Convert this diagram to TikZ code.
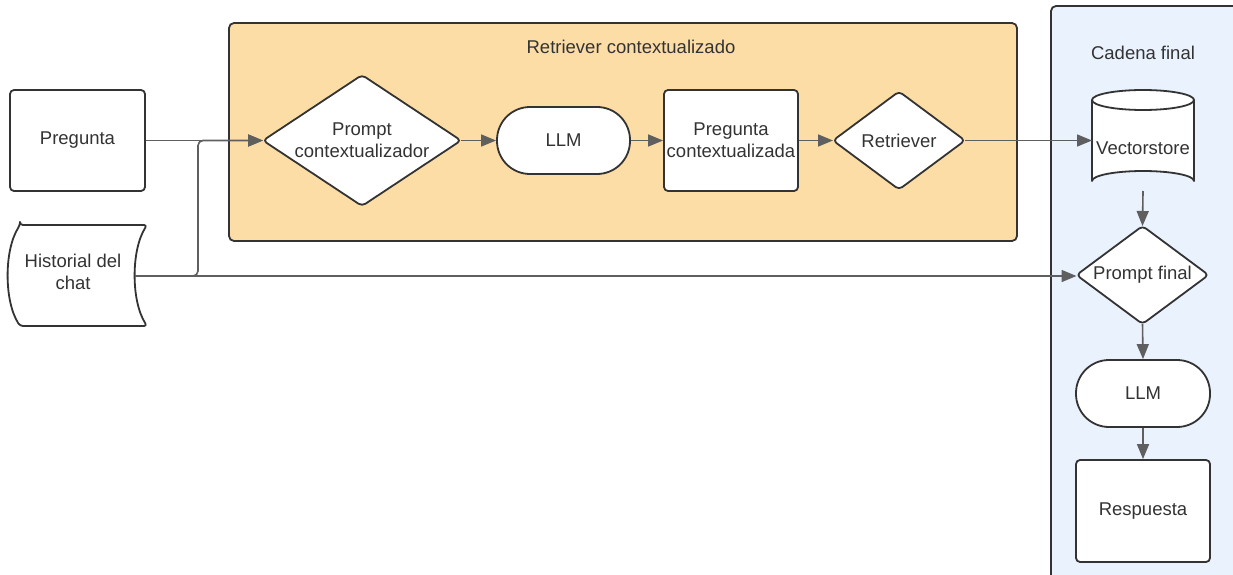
\documentclass[tikz,border=0pt]{standalone}
\usepackage{fontspec}
\setmainfont{Liberation Sans}
\usetikzlibrary{arrows.meta}
\definecolor{ink}{RGB}{51,51,51}
\definecolor{wire}{RGB}{95,95,95}
\definecolor{orangebg}{RGB}{253,221,166}
\definecolor{bluebg}{RGB}{234,242,254}
\tikzset{
  every node/.style={font=\fontsize{18.5}{22}\selectfont, text=ink, align=center},
  shapeline/.style={draw=ink, line width=1.8pt, fill=white, line join=round},
  boxnode/.style={shapeline, rectangle, rounded corners=4pt, inner sep=0pt},
  pill/.style={shapeline, rectangle, rounded corners=33pt, minimum width=133pt, minimum height=67pt, inner sep=0pt},
  panel/.style={draw=ink, line width=1.8pt, rounded corners=5pt},
  flow/.style={draw=wire, line width=1.6pt, -{Triangle[length=15pt, width=12pt]}},
}
% diamond: name, centre x, centre y, half width, half height, label
\newcommand{\flowdiamond}[6]{%
  \coordinate (#1-w) at ({#2-#4},#3);
  \coordinate (#1-e) at ({#2+#4},#3);
  \coordinate (#1-n) at (#2,{#3-#5});
  \coordinate (#1-s) at (#2,{#3+#5});
  \draw[shapeline, rounded corners=4pt] (#1-w) -- (#1-n) -- (#1-e) -- (#1-s) -- cycle;
  \node (#1) at (#2,#3) {#6};
}
\begin{document}
\begin{tikzpicture}[x=1pt, y=-1pt]
\useasboundingbox (0,0) rectangle (1233,575);
\clip (0,0) rectangle (1233,575);

% group panels
\draw[panel, fill=orangebg] (229,23) rectangle (1017,241);
\node (gret) at (631,47) {Retriever contextualizado};
\draw[panel, fill=bluebg] (1051,6) rectangle (1250,600);
\node (gfin) at (1143,53) {Cadena final};

% inputs
\node[boxnode, minimum width=135pt, minimum height=101pt] (preg) at (77.5,140.5) {Pregunta};
\draw[shapeline, rounded corners=3pt] (20,225) -- (147,225)
  .. controls (131,250) and (131,301) .. (147,326) -- (20,326)
  .. controls (4,301) and (4,250) .. (20,225) -- cycle;
\node (hist) at (73,272) {Historial del\\chat};
\coordinate (hist-e) at (135,276);

% contextualising retriever
\flowdiamond{pc}{362}{140.5}{99}{65.5}{Prompt\\contextualizador}
\node[pill] (llm1) at (563.5,140.5) {LLM};
\node[boxnode, minimum width=134pt, minimum height=101pt] (pcx) at (731,140.5) {Pregunta\\contextualizada};
\flowdiamond{ret}{899}{140.5}{66}{49}{Retriever}

% final chain
\draw[shapeline] (1092,100) -- (1092,181) arc[start angle=180, end angle=360, x radius=51, y radius=10]
  -- (1194,100);
\draw[shapeline] (1143,100) ellipse[x radius=51, y radius=10];
\node (vs) at (1143,148) {Vectorstore};
\coordinate (vs-w) at (1092,140.5);
\coordinate (vs-s) at (1143,191);
\flowdiamond{pf}{1142.5}{275}{66}{49}{Prompt final}
\node[pill, minimum width=134pt] (llm2) at (1143,393.5) {LLM};
\node[boxnode, minimum width=134pt, minimum height=102pt] (resp) at (1143,511) {Respuesta};

% connectors
\draw[flow] (preg.east) -- (pc-w);
\draw[flow, rounded corners=5pt] (hist-e) -- (198,276) -- (198,140.5) -- (pc-w);
\draw[flow] (hist-e) -- (pf-w |- hist-e);
\draw[flow] (pc-e) -- (llm1.west);
\draw[flow] (llm1.east) -- (pcx.west);
\draw[flow] (pcx.east) -- (ret-w);
\draw[flow] (ret-e) -- (vs-w);
\draw[flow] (vs-s) -- (pf-n);
\draw[flow] (pf-s) -- (llm2.north);
\draw[flow] (llm2.south) -- (resp.north);
\end{tikzpicture}
\end{document}
